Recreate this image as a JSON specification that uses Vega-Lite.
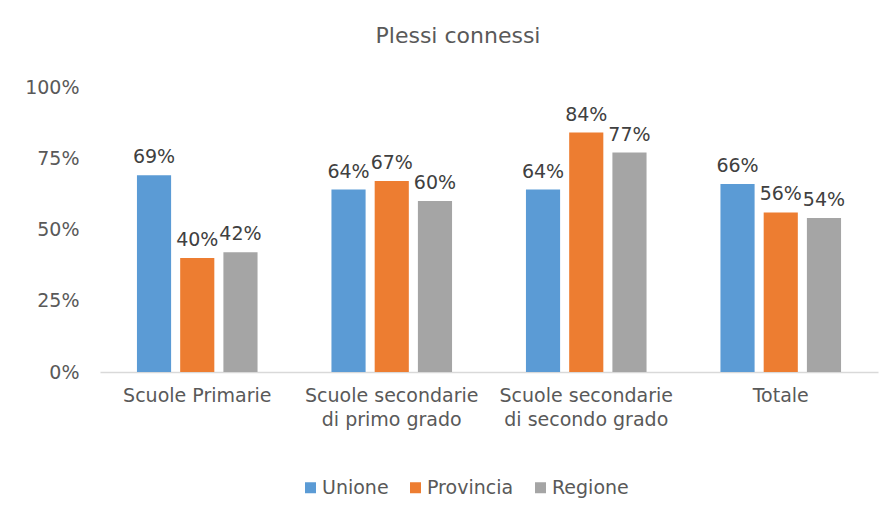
{
  "$schema": "https://vega.github.io/schema/vega-lite/v6.json",
  "width": 778,
  "height": 285,
  "autosize": {"type": "none"},
  "padding": {"left": 100, "top": 87, "right": 17, "bottom": 139},
  "background": "white",
  "config": {
    "view": {"stroke": null},
    "font": "DejaVu Sans",
    "text": {"font": "DejaVu Sans"}
  },
  "title": {
    "text": "Plessi connessi",
    "fontSize": 22,
    "font": "DejaVu Sans",
    "fontWeight": "normal",
    "color": "#595959",
    "anchor": "middle",
    "frame": "group",
    "dx": -31,
    "offset": 30
  },
  "data": {
    "values": [
      {"categoria": "Scuole Primarie", "serie": "Unione", "valore": 0.69},
      {"categoria": "Scuole Primarie", "serie": "Provincia", "valore": 0.40},
      {"categoria": "Scuole Primarie", "serie": "Regione", "valore": 0.42},
      {"categoria": "Scuole secondarie|di primo grado", "serie": "Unione", "valore": 0.64},
      {"categoria": "Scuole secondarie|di primo grado", "serie": "Provincia", "valore": 0.67},
      {"categoria": "Scuole secondarie|di primo grado", "serie": "Regione", "valore": 0.60},
      {"categoria": "Scuole secondarie|di secondo grado", "serie": "Unione", "valore": 0.64},
      {"categoria": "Scuole secondarie|di secondo grado", "serie": "Provincia", "valore": 0.84},
      {"categoria": "Scuole secondarie|di secondo grado", "serie": "Regione", "valore": 0.77},
      {"categoria": "Totale", "serie": "Unione", "valore": 0.66},
      {"categoria": "Totale", "serie": "Provincia", "valore": 0.56},
      {"categoria": "Totale", "serie": "Regione", "valore": 0.54}
    ]
  },
  "encoding": {
    "x": {
      "field": "categoria",
      "type": "nominal",
      "sort": null,
      "scale": {"paddingInner": 0.38, "paddingOuter": 0.19},
      "axis": {
        "title": null,
        "labelAngle": 0,
        "labelExpr": "split(datum.label, '|')",
        "labelFontSize": 19,
        "labelFont": "DejaVu Sans",
        "labelColor": "#595959",
        "labelPadding": 14,
        "labelLineHeight": 24,
        "labelBaseline": "top",
        "ticks": false,
        "domainColor": "#D9D9D9",
        "domainWidth": 1.5
      }
    },
    "xOffset": {
      "field": "serie",
      "type": "nominal",
      "sort": ["Unione", "Provincia", "Regione"],
      "scale": {"paddingInner": 0.21, "paddingOuter": 0}
    },
    "y": {
      "field": "valore",
      "type": "quantitative",
      "scale": {"domain": [0, 1]},
      "axis": {
        "title": null,
        "format": ".0%",
        "values": [0, 0.25, 0.5, 0.75, 1],
        "grid": false,
        "domain": false,
        "ticks": false,
        "labelFontSize": 19,
        "labelFont": "DejaVu Sans",
        "labelColor": "#595959",
        "labelPadding": 21
      }
    }
  },
  "layer": [
    {
      "mark": {"type": "bar"},
      "encoding": {
        "color": {
          "field": "serie",
          "type": "nominal",
          "sort": ["Unione", "Provincia", "Regione"],
          "scale": {
            "domain": ["Unione", "Provincia", "Regione"],
            "range": ["#5B9BD5", "#ED7D31", "#A5A5A5"]
          },
          "legend": {
            "title": null,
            "orient": "none",
            "direction": "horizontal",
            "legendX": 201,
            "legendY": 391,
            "symbolType": "square",
            "symbolSize": 121,
            "symbolStrokeWidth": 0,
            "labelFontSize": 19,
            "labelFont": "DejaVu Sans",
            "labelColor": "#595959",
            "labelOffset": 2,
            "columnPadding": 17
          }
        }
      }
    },
    {
      "mark": {
        "type": "text",
        "baseline": "bottom",
        "dy": -8,
        "fontSize": 19,
        "font": "DejaVu Sans",
        "color": "#404040"
      },
      "encoding": {
        "text": {"field": "valore", "type": "quantitative", "format": ".0%"}
      }
    }
  ]
}
